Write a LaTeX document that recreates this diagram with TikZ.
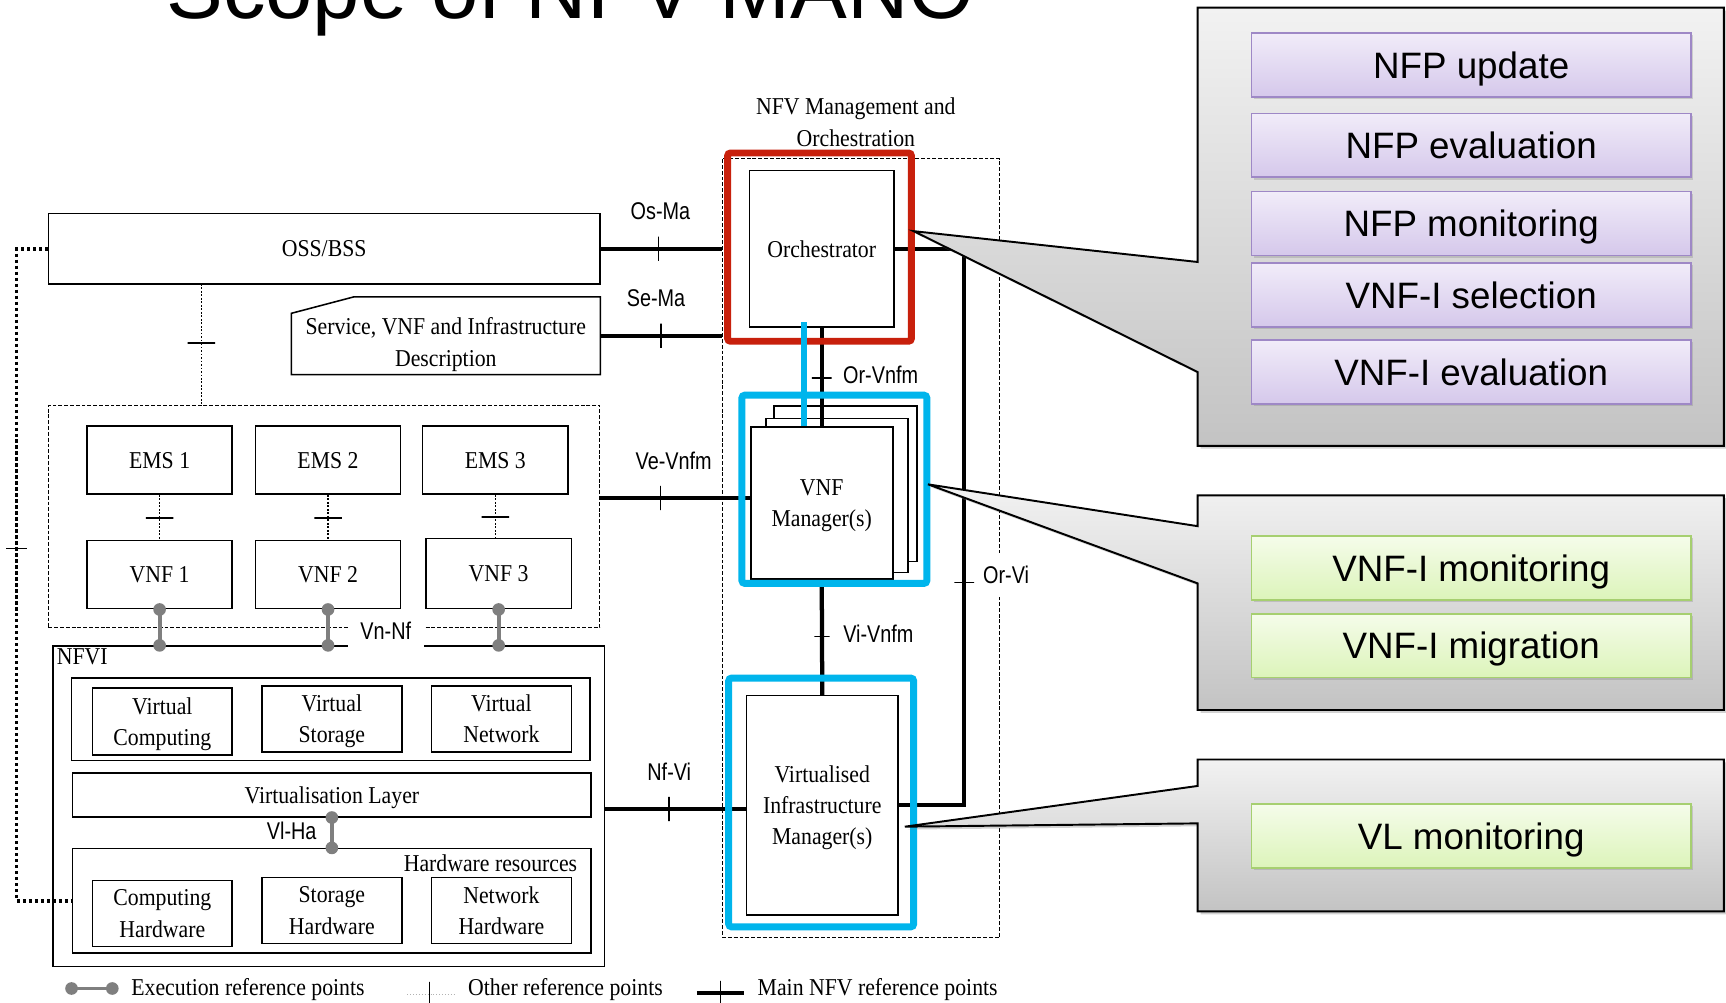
\documentclass[tikz,border=0pt]{standalone}
\usepackage{fontspec}
\setmainfont[FakeStretch=0.9]{Liberation Serif}
\newfontfamily\slidefont{Liberation Sans}
\newfontfamily\reffont[FakeStretch=0.82]{Liberation Sans}
\usetikzlibrary{shadows}
\definecolor{manored}{HTML}{C8200C}
\definecolor{manocyan}{HTML}{00B5EC}
\definecolor{execgray}{HTML}{7F7F7F}
\definecolor{calltop}{HTML}{F2F2F2}
\definecolor{callbot}{HTML}{C3C3C3}
\definecolor{lilactop}{HTML}{F1ECF9}
\definecolor{lilacbot}{HTML}{D5C8EB}
\definecolor{lilacedge}{HTML}{9E88C6}
\definecolor{limetop}{HTML}{F5FCEA}
\definecolor{limebot}{HTML}{DCF4BA}
\definecolor{limeedge}{HTML}{A6CF70}
\newcommand\boxfont{\fontsize{12.5}{16.2}\selectfont}
\newcommand\reffontsz{\reffont\fontsize{12.5}{14}\selectfont}

\tikzset{
	sz/.style 2 args={minimum width=#1*0.2mm,minimum height=#2*0.2mm},
	blk/.style={draw,line width=0.8pt,inner sep=0pt,align=center,font=\boxfont,text depth=0pt},
	area/.style={draw,line width=0.5pt,dash pattern=on 2pt off 1pt,inner sep=0pt},
	hilite/.style={draw=#1,line width=3.6pt,rounded corners=1.5pt,inner sep=0pt},
	mainref/.style={line width=2.2pt},
	otherref/.style={line width=0.8pt,dash pattern=on 0.9pt off 0.9pt},
	mgmtref/.style={line width=2pt,dash pattern=on 1.6pt off 1.5pt},
	exec/.style={draw=execgray,line width=2pt},
	dot/.style={circle,fill=execgray,inner sep=0pt,minimum size=2.3mm},
	vtick/.style={draw=black,solid,line width=0.6pt,minimum width=0pt,minimum height=#1,inner sep=0pt,outer sep=0pt},
	vtick/.default=4.4mm,
	htick/.style={draw=black,solid,line width=0.6pt,minimum height=0pt,minimum width=#1,inner sep=0pt,outer sep=0pt},
	htick/.default=3.6mm,
	emstick/.style={htick=5mm,line width=1.2pt},
	reflab/.style={font=\reffontsz,inner sep=1pt},
	callout/.style={draw,line width=1pt,top color=calltop,bottom color=callbot,drop shadow={shadow xshift=1.5pt,shadow yshift=-1.5pt,opacity=.35}},
	lilac/.style={draw=lilacedge,line width=0.9pt,top color=lilactop,bottom color=lilacbot,sz={399}{58},text depth=0pt,font=\slidefont\fontsize{19}{22}\selectfont,drop shadow={shadow xshift=1pt,shadow yshift=-1.2pt,opacity=.3}},
	lime/.style={draw=limeedge,line width=0.9pt,top color=limetop,bottom color=limebot,sz={399}{58},text depth=0pt,font=\slidefont\fontsize{19}{22}\selectfont,drop shadow={shadow xshift=1pt,shadow yshift=-1.2pt,opacity=.3}}
}

\begin{document}
\begin{tikzpicture}[x=0.2mm,y=-0.2mm]
	\useasboundingbox (0,0) rectangle (1568,911);
	\fill[white] (0,0) rectangle (1568,911);

	% title, cut by the top edge
	\node[anchor=base,font=\slidefont\fontsize{44}{50}\selectfont] (title) at (518.5,17) {Scope of NFV MANO};

	% OSS/BSS, EMS, VNF
	\node[blk,sz={501}{64}] (oss) at (294.5,226) {OSS/BSS};
	\node[sz={280}{70},inner sep=0pt] (svc) at (405,305) {};
	\draw[line width=0.8pt] (svc.south west) -- ([yshift=-3mm]svc.north west) -- ([xshift=11.4mm]svc.north west) -- (svc.north east) -- (svc.south east) -- cycle;
	\node[align=center,font=\boxfont,inner sep=0pt] (svctext) at ([yshift=-1.6mm]svc.center) {Service, VNF and Infrastructure\\Description};
	\node[area,sz={501}{202}] (vnfarea) at (294.5,469) {};
	\node[blk,sz={132}{62}] (ems1) at (145,418) {EMS 1};
	\node[blk,sz={132}{62}] (ems2) at (298,418) {EMS 2};
	\node[blk,sz={132}{62}] (ems3) at (450,418) {EMS 3};
	\node[blk,sz={132}{62}] (vnf1) at (145,522) {VNF 1};
	\node[blk,sz={132}{62}] (vnf2) at (298,522) {VNF 2};
	\node[blk,sz={132}{64}] (vnf3) at (453,521) {VNF 3};

	% NFVI
	\node[blk,sz={501}{291}] (nfvi) at (298.5,732.5) {};
	\node[anchor=north west,inner sep=0pt,font=\boxfont] (nfvilab) at ([xshift=0.8mm,yshift=-0.5mm]nfvi.north west) {NFVI};
	\node[blk,sz={471}{75}] (vres) at (300.5,653.5) {};
	\node[blk,sz={127}{61}] (vcomp) at (147.5,655.5) {Virtual\\Computing};
	\node[blk,sz={127}{60}] (vstor) at (301.5,653) {Virtual\\Storage};
	\node[blk,sz={127}{60}] (vnet) at (455.5,653) {Virtual\\Network};
	\node[blk,sz={471}{40}] (vlayer) at (301.5,722) {Virtualisation Layer};
	\node[blk,sz={471}{95}] (hwres) at (301.5,818.5) {};
	\node[anchor=north east,inner sep=0pt,font=\boxfont] (hwlab) at ([xshift=-2.6mm,yshift=-1.2mm]hwres.north east) {Hardware resources};
	\node[blk,sz={127}{60}] (chw) at (147.5,830) {Computing\\Hardware};
	\node[blk,sz={127}{60}] (shw) at (301.5,827) {Storage\\Hardware};
	\node[blk,sz={127}{60}] (nhw) at (455.5,827) {Network\\Hardware};

	% other and execution reference points
	\coordinate (ossdrop) at (183,258);
	\coordinate (mgmtx) at (15,0);
	\draw[otherref] (ossdrop) -- node[emstick,pos=.49]{} (ossdrop |- vnfarea.north);
	\draw[otherref] (ems1.south) -- node[emstick,pos=.52]{} (vnf1.north);
	\draw[otherref] (ems2.south) -- node[emstick,pos=.52]{} (vnf2.north);
	\draw[otherref] (ems3.south) -- node[emstick,pos=.52]{} (ems3.south |- vnf3.north);
	\draw[mgmtref] (oss.west) -| node[htick=3.8mm,pos=.73]{} (mgmtx |- hwres.west) -- (hwres.west);
	\draw[exec] (vnf1.south) node[dot]{} -- (vnf1.south |- nfvi.north) node[dot]{};
	\draw[exec] (vnf2.south) node[dot]{} -- (vnf2.south |- nfvi.north) node[dot]{};
	\draw[exec] (vnf3.south) node[dot]{} -- (vnf3.south |- nfvi.north) node[dot]{};
	\draw[exec] (vlayer.south) node[dot]{} -- (hwres.north) node[dot]{};
	\node[reflab,fill=white,sz={69}{40}] (vnnf) at (350.5,573) {Vn-Nf};
	\node[reflab] (vlha) at (265,755) {Vl-Ha};

	% NFV MANO
	\node[font=\boxfont,align=center] (manolab) at (777.5,111) {NFV Management and\\Orchestration};
	\node[area,sz={252}{708}] (mano) at (782,498) {};
	\node[blk,sz={131}{142}] (orch) at (746.5,226) {Orchestrator};
	\node[blk,fill=white,sz={130}{141}] (vnfmb) at (768,439.5) {};
	\node[blk,fill=white,sz={129}{140}] (vnfmm) at (760.5,450) {};
	\node[blk,fill=white,sz={129}{138}] (vnfmf) at (746.5,457) {VNF\\Manager(s)};
	\node[blk,sz={138}{199}] (vim) at (747,731.5) {Virtualised\\Infrastructure\\Manager(s)};
	\coordinate (orvi) at (876,226);
	\coordinate (vevnfm) at ([yshift=0.9mm]vnfmf.west);
	\coordinate (nfvivim) at ([yshift=-0.7mm]vim.west);

	% main reference points
	\draw[mainref] (oss.east) -- node[vtick,pos=.48]{} (oss.east -| mano.west);
	\draw[mainref] (svc.east) -- node[vtick,pos=.5]{} (svc.east -| mano.west);
	\draw[mainref] (vevnfm -| vnfarea.east) -- node[vtick,pos=.4]{} (vevnfm);
	\draw[mainref] (nfvivim -| nfvi.east) -- node[vtick,pos=.455]{} (nfvivim);
	\draw[mainref] (orch.south) -- node[htick,pos=.51]{} (vnfmf.north);
	\draw[mainref] (vnfmf.south) -- node[htick=2.8mm,pos=.49]{} (vim.north);
	\draw[mainref] (orch.east) -- (orvi) |- node[htick,pos=.3]{} (vim.east);
	\node[reflab] (osma) at (600,192) {Os-Ma};
	\node[reflab] (sema) at (596,271) {Se-Ma};
	\node[reflab] (vevnfmlab) at (612,419) {Ve-Vnfm};
	\node[reflab] (orvnfm) at (800,341) {Or-Vnfm};
	\node[reflab] (vivnfm) at (798,576) {Vi-Vnfm};
	\node[reflab] (nfvilab2) at (608,701) {Nf-Vi};
	\node[reflab,fill=white,minimum height=8mm] (orvilab) at (914,522) {Or-Vi};

	% highlights
	\node[hilite=manored,sz={167}{171}] (orchhl) at (744.5,224.5) {};
	\node[hilite=manocyan,sz={168}{171}] (vnfmhl) at (758,444.5) {};
	\node[hilite=manocyan,sz={168}{226}] (vimhl) at (746,729) {};
	\draw[manocyan,line width=3.1pt] ([xshift=-3.2mm,yshift=1mm]orch.south) -- ([xshift=-3.2mm]vnfmf.north);

	% legend
	\coordinate (exa) at (65,898);
	\coordinate (exb) at (102,898);
	\draw[exec] (exa) node[dot]{} -- (exb) node[dot]{};
	\node[anchor=west,inner sep=0pt,font=\boxfont] (exlab) at (119,899) {Execution reference points};
	\coordinate (ota) at (370,903);
	\coordinate (otb) at (413,903);
	\draw[gray!60,line width=0.5pt,densely dotted] (ota) -- node[vtick,pos=.47]{} (otb);
	\node[anchor=west,inner sep=0pt,font=\boxfont] (otlab) at (425,899) {Other reference points};
	\coordinate (mna) at (633,902);
	\coordinate (mnb) at (676,902);
	\draw[mainref] (mna) -- node[vtick,pos=.5]{} (mnb);
	\node[anchor=west,inner sep=0pt,font=\boxfont] (mnlab) at (688,899) {Main NFV reference points};

	% callouts
	\draw[callout] (1088,7) -- (1566,7) -- (1566,405) -- (1088,405) -- (1088,338) -- (830,210) -- (1088,238) -- cycle;
	\node[lilac] (nfpupd) at (1336.5,59) {NFP update};
	\node[lilac] (nfpeval) at (1336.5,132) {NFP evaluation};
	\node[lilac] (nfpmon) at (1336.5,203) {NFP monitoring};
	\node[lilac] (vnfisel) at (1336.5,268) {VNF-I selection};
	\node[lilac] (vnfieval) at (1336.5,338) {VNF-I evaluation};
	\draw[callout] (1088,450) -- (1566,450) -- (1566,645) -- (1088,645) -- (1088,530) -- (843,440) -- (1088,478) -- cycle;
	\node[lime] (vnfimon) at (1336.5,516) {VNF-I monitoring};
	\node[lime] (vnfimig) at (1336.5,586.5) {VNF-I migration};
	\draw[callout] (1088,690) -- (1566,690) -- (1566,828) -- (1088,828) -- (1088,748) -- (822,751) -- (1088,714) -- cycle;
	\node[lime] (vlmon) at (1336.5,759.5) {VL monitoring};
\end{tikzpicture}
\end{document}
